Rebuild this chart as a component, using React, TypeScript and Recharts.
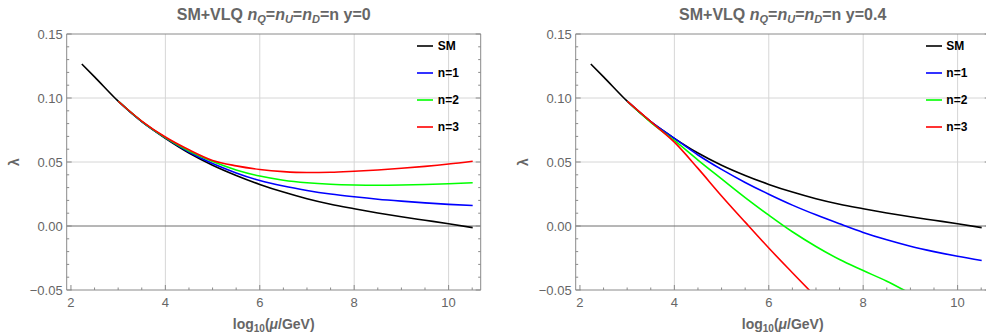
import { LineChart, Line, XAxis, YAxis, CartesianGrid, ReferenceLine, Legend } from 'recharts';

// scale (log10 of mu/GeV) for the SM curve
const MU_SM = [2.23, 2.5, 3, 3.5, 4, 4.5, 5, 5.5, 6, 6.5, 7, 7.5, 8, 8.5, 9, 9.5, 10, 10.51];
const LAMBDA_SM = [
  0.1266, 0.1165, 0.0975, 0.0815, 0.0685, 0.057, 0.0475, 0.0395, 0.0325, 0.0265, 0.0213, 0.017,
  0.0135, 0.0102, 0.0072, 0.0045, 0.0018, -0.0013,
];

// VLQ curves start at 10^3 GeV
const MU_VLQ = [3, 3.5, 4, 4.5, 5, 5.5, 6, 6.5, 7, 7.5, 8, 8.5, 9, 9.5, 10, 10.51];

// y = 0
const Y0_N1 = [0.0975, 0.0815, 0.0688, 0.0578, 0.0488, 0.0415, 0.0355, 0.0312, 0.0278, 0.025, 0.0228, 0.0209, 0.0194, 0.0181, 0.0169, 0.016];
const Y0_N2 = [0.0975, 0.0817, 0.069, 0.0585, 0.0503, 0.0438, 0.039, 0.0358, 0.0338, 0.0326, 0.032, 0.0318, 0.032, 0.0324, 0.033, 0.0338];
const Y0_N3 = [0.0975, 0.082, 0.0695, 0.0595, 0.0512, 0.047, 0.0442, 0.0425, 0.0418, 0.042, 0.0428, 0.0438, 0.0451, 0.0466, 0.0484, 0.0506];

// y = 0.4
const Y04_N1 = [0.0975, 0.0815, 0.0685, 0.0555, 0.0442, 0.034, 0.0248, 0.0163, 0.0087, 0.0017, -0.005, -0.0108, -0.0158, -0.0200, -0.0237, -0.027];
const MU_Y04_N2 = [3, 3.5, 4, 4.5, 5, 5.5, 6, 6.5, 7, 7.5, 8, 8.5, 9, 9.5];
const Y04_N2 = [0.0975, 0.081, 0.0668, 0.0515, 0.0368, 0.0222, 0.0085, -0.0045, -0.016, -0.0262, -0.0348, -0.0432, -0.0527, -0.062];
const MU_Y04_N3 = [3, 3.5, 4, 4.5, 5, 5.5, 6, 6.5, 7, 7.5];
const Y04_N3 = [0.0975, 0.0815, 0.0655, 0.045, 0.0235, 0.003, -0.0172, -0.0365, -0.0555, -0.074];

const SERIES_NAMES = ['SM', 'n=1', 'n=2', 'n=3'];
const SERIES_COLORS = ['#000000', '#0000ff', '#00ff00', '#ff0000'];

const X_DOMAIN = [1.91, 10.68];
const X_TICKS = [2, 2.5, 3, 3.5, 4, 4.5, 5, 5.5, 6, 6.5, 7, 7.5, 8, 8.5, 9, 9.5, 10, 10.5];
const Y_DOMAIN = [-0.05, 0.15];
const Y_TICKS = [-0.05, -0.04, -0.03, -0.02, -0.01, 0, 0.01, 0.02, 0.03, 0.04, 0.05, 0.06, 0.07, 0.08, 0.09, 0.1, 0.11, 0.12, 0.13, 0.14, 0.15];
const GRID_X = [4, 6, 8, 10];
const GRID_Y = [0.05, 0.1];

const W = 493;
const H = 335;
// axes take 1px each, so the plot box is 66.7..480.7 x 34..290
const MARGIN = { top: 33, right: 11.3, bottom: 44, left: 65.7 };
const PLOT = { left: 66.7, right: 480.7, top: 34, bottom: 290 };
const FONT = '"Liberation Sans", Arial, sans-serif';
const FRAME = '#8a8a8a';
const LABEL = '#666666';

const pts = (xs: number[], ys: number[]) => xs.map((x, i) => ({ x, y: ys[i] }));
const isMajorX = (v: number) => Math.abs(v / 2 - Math.round(v / 2)) < 1e-6;
const isMajorY = (v: number) => Math.round(v * 100) % 5 === 0;
const fmtY = (v: number) => (v < -1e-9 ? '\u2212' : '') + Math.abs(v).toFixed(2);

function BottomTick({ x, y, payload }: any) {
  const major = isMajorX(payload.value);
  return (
    <g>
      <line x1={x} x2={x} y1={y} y2={y - (major ? 5 : 2.5)} stroke={FRAME} />
      {major && (
        <text x={x} y={y + 17} textAnchor="middle" fill={LABEL} fontSize={13} fontFamily={FONT}>
          {payload.value}
        </text>
      )}
    </g>
  );
}

function TopTick({ x, y, payload }: any) {
  const major = isMajorX(payload.value);
  return <line x1={x} x2={x} y1={y} y2={y + (major ? 5 : 2.5)} stroke={FRAME} />;
}

function LeftTick({ x, y, payload }: any) {
  const major = isMajorY(payload.value);
  return (
    <g>
      <line x1={x} x2={x + (major ? 5 : 2.5)} y1={y} y2={y} stroke={FRAME} />
      {major && (
        <text x={x - 4} y={y + 4.6} textAnchor="end" fill={LABEL} fontSize={13} fontFamily={FONT}>
          {fmtY(payload.value)}
        </text>
      )}
    </g>
  );
}

function RightTick({ x, y, payload }: any) {
  const major = isMajorY(payload.value);
  return <line x1={x} x2={x - (major ? 5 : 2.5)} y1={y} y2={y} stroke={FRAME} />;
}

function LegendBox({ payload }: any) {
  return (
    <div>
      {(payload || []).map((p: any, i: number) => (
        <div key={p.value} style={{ display: 'flex', alignItems: 'center', height: 27 }}>
          <svg width={16} height={4} style={{ marginRight: 4.5, display: 'block' }}>
            <line x1={0} x2={16} y1={2} y2={2} stroke={SERIES_COLORS[i]} strokeWidth={1.6} />
          </svg>
          <span style={{ font: `bold 12px ${FONT}`, color: '#000' }}>{p.value}</span>
        </div>
      ))}
    </div>
  );
}

function Panel({ title, series }: { title: string; series: { x: number; y: number }[][] }) {
  const plotCx = (PLOT.left + PLOT.right) / 2;
  const plotCy = (PLOT.top + PLOT.bottom) / 2;
  return (
    <div style={{ position: 'relative', width: W, height: H }}>
      <LineChart width={W} height={H} margin={MARGIN}>
        <CartesianGrid
          stroke="#d6d6d6"
          strokeWidth={1}
          verticalValues={GRID_X}
          horizontalValues={GRID_Y}
          syncWithTicks
        />
        <ReferenceLine y={0} stroke="#6e6e6e" strokeWidth={1} />
        <XAxis
          dataKey="x"
          type="number"
          domain={X_DOMAIN}
          allowDataOverflow
          ticks={X_TICKS}
          interval={0}
          height={1}
          tickSize={0}
          tickMargin={0}
          tickLine={false}
          axisLine={{ stroke: FRAME }}
          tick={<BottomTick />}
        />
        <XAxis
          xAxisId="top"
          orientation="top"
          type="number"
          domain={X_DOMAIN}
          allowDataOverflow
          ticks={X_TICKS}
          interval={0}
          height={1}
          tickSize={0}
          tickMargin={0}
          tickLine={false}
          axisLine={{ stroke: FRAME }}
          tick={<TopTick />}
        />
        <YAxis
          type="number"
          domain={Y_DOMAIN}
          allowDataOverflow
          ticks={Y_TICKS}
          interval={0}
          width={1}
          tickSize={0}
          tickMargin={0}
          tickLine={false}
          axisLine={{ stroke: FRAME }}
          tick={<LeftTick />}
        />
        <YAxis
          yAxisId="right"
          orientation="right"
          type="number"
          domain={Y_DOMAIN}
          allowDataOverflow
          ticks={Y_TICKS}
          interval={0}
          width={1}
          tickSize={0}
          tickMargin={0}
          tickLine={false}
          axisLine={{ stroke: FRAME }}
          tick={<RightTick />}
        />
        {series.map((d, i) => (
          <Line
            key={SERIES_NAMES[i]}
            data={d}
            dataKey="y"
            name={SERIES_NAMES[i]}
            type="monotone"
            stroke={SERIES_COLORS[i]}
            strokeWidth={1.6}
            dot={false}
            activeDot={false}
            isAnimationActive={false}
          />
        ))}
        <Legend
          layout="vertical"
          align="center"
          verticalAlign="middle"
          content={<LegendBox />}
          wrapperStyle={{ top: 32.5, left: 417.3, width: 70 }}
        />
      </LineChart>
      <svg width={W} height={H} style={{ position: 'absolute', left: 0, top: 0, pointerEvents: 'none' }}>
        <text x={plotCx} y={20} textAnchor="middle" fill={LABEL} fontSize={16} fontWeight="bold" fontFamily={FONT}>
          SM+VLQ <tspan fontStyle="italic">n</tspan>
          <tspan fontStyle="italic" fontSize={11} dy={3}>Q</tspan>
          <tspan dy={-3}>=</tspan>
          <tspan fontStyle="italic">n</tspan>
          <tspan fontStyle="italic" fontSize={11} dy={3}>U</tspan>
          <tspan dy={-3}>=</tspan>
          <tspan fontStyle="italic">n</tspan>
          <tspan fontStyle="italic" fontSize={11} dy={3}>D</tspan>
          <tspan dy={-3}>{'=n ' + title}</tspan>
        </text>
        <text x={plotCx} y={329} textAnchor="middle" fill={LABEL} fontSize={14} fontWeight="bold" fontFamily={FONT}>
          log<tspan fontSize={10} dy={3}>10</tspan>
          <tspan dy={-3}>(</tspan>
          <tspan fontStyle="italic">μ</tspan>
          <tspan>/GeV)</tspan>
        </text>
        <text
          transform={`translate(18.5, ${plotCy}) rotate(-90)`}
          textAnchor="middle"
          fill={LABEL}
          fontSize={14}
          fontWeight="bold"
          fontFamily={FONT}
        >
          λ
        </text>
      </svg>
    </div>
  );
}

export default function App() {
  const sm = pts(MU_SM, LAMBDA_SM);
  const left = [sm, pts(MU_VLQ, Y0_N1), pts(MU_VLQ, Y0_N2), pts(MU_VLQ, Y0_N3)];
  const right = [sm, pts(MU_VLQ, Y04_N1), pts(MU_Y04_N2, Y04_N2), pts(MU_Y04_N3, Y04_N3)];
  return (
    <div style={{ position: 'absolute', left: 0, top: 0, width: 986, height: 335, overflow: 'hidden', background: '#fff' }}>
      <div style={{ position: 'absolute', left: 0, top: 0 }}>
        <Panel title="y=0" series={left} />
      </div>
      <div style={{ position: 'absolute', left: 508.5, top: 0 }}>
        <Panel title="y=0.4" series={right} />
      </div>
    </div>
  );
}
